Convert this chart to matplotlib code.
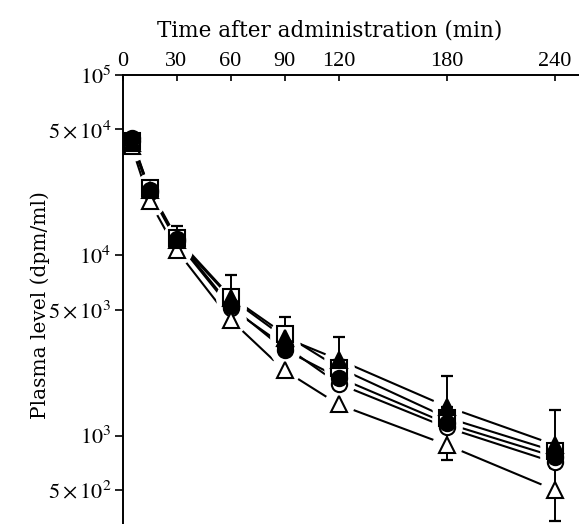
import matplotlib
matplotlib.use("Agg")
import matplotlib.pyplot as plt
import numpy as np

# ---- data ----
times = [5, 15, 30, 60, 90, 120, 180, 240]
filled_circle = [4.5e4, 2.3e4, 1.23e4, 5.25e3, 3.0e3, 2.1e3, 1.17e3, 7.65e2]
open_circle = [4.3e4, 2.25e4, 1.2e4, 5.1e3, 3.15e3, 1.94e3, 1.11e3, 7.1e2]
filled_tri = [4.2e4, 2.3e4, 1.22e4, 5.8e3, 3.5e3, 2.64e3, 1.45e3, 8.9e2]
open_square = [4.3e4, 2.35e4, 1.25e4, 5.9e3, 3.65e3, 2.38e3, 1.26e3, 8.2e2]
open_tri = [4.05e4, 2.0e4, 1.07e4, 4.4e3, 2.3e3, 1.49e3, 8.9e2, 5.0e2]
# error bars (SD)
upper_sd_tri = [0, 0, 2400, 2000, 1070, 900, 700, 500]
sd_open_tri = [0, 0, 0, 0, 0, 0, 155, 164]

x_ticks = [0, 30, 60, 90, 120, 180, 240]
y_ticks = [1e5, 5e4, 1e4, 5e3, 1e3, 5e2]
y_ticklabels = [r'$10^{5}$', r'$5\times10^{4}$', r'$10^{4}$', r'$5\times10^{3}$',
                r'$10^{3}$', r'$5\times10^{2}$']

plt.rcParams['font.family'] = ['Liberation Serif', 'DejaVu Serif']
plt.rcParams['mathtext.fontset'] = 'stix'

W, H = 579, 524
fig = plt.figure(figsize=(W / 100, H / 100), dpi=100)
left = 122.5 / W
top = 1 - 75 / H
ax = fig.add_axes([left, 0.0, 1 - left, top])

ax.set_yscale('log')
ax.set_xlim(0, (W - 122.5) / 1.8)
ax.set_ylim(10 ** 2.51, 1e5)

series = [
    (open_square, 's', 'white'),
    (open_circle, 'o', 'white'),
    (filled_circle, 'o', 'black'),
    (open_tri, '^', 'white'),
    (filled_tri, '^', 'black'),
]

# lines
for vals, m, fc in series:
    ax.plot(times, vals, color='black', lw=1.5, zorder=1, solid_capstyle='butt')
# white masks around markers to produce gaps
for vals, m, fc in series:
    ax.plot(times, vals, linestyle='none', marker='o', ms=21, mfc='white',
            mec='white', zorder=2)

# error bars
ax.errorbar(times[2:], filled_tri[2:], yerr=[[0] * 6, upper_sd_tri[2:]],
            fmt='none', ecolor='black', elinewidth=1.4, capsize=4, capthick=1.6, zorder=2.5)
ax.errorbar(times[6:], open_tri[6:], yerr=sd_open_tri[6:],
            fmt='none', ecolor='black', elinewidth=1.4, capsize=4, capthick=1.6, zorder=2.5)

# markers
for vals, m, fc in series:
    ax.plot(times, vals, linestyle='none', marker=m, ms=11, mfc=fc,
            mec='black', mew=1.5, zorder=3)

# axes style
ax.spines['right'].set_visible(False)
ax.spines['bottom'].set_visible(False)
for s in ('top', 'left'):
    ax.spines[s].set_linewidth(1.4)
ax.xaxis.set_ticks_position('top')
ax.xaxis.set_label_position('top')
ax.set_xticks(x_ticks)
ax.set_xticklabels([str(v) for v in x_ticks])
ax.tick_params(axis='x', direction='in', length=4, width=1.2, labelsize=16, pad=3)
ax.set_yticks(y_ticks)
ax.set_yticklabels(y_ticklabels)
ax.yaxis.set_minor_locator(matplotlib.ticker.NullLocator())
ax.tick_params(axis='y', direction='out', length=6, width=1.2, labelsize=16, pad=2)

ax.set_xlabel('Time after administration (min)', fontsize=15.5,
              family=['DejaVu Serif'])
ax.xaxis.set_label_coords((330 - 122.5) / (W - 122.5), 1 + (75 - 31) / (H - 75) )
ax.xaxis.label.set_va('center')
ax.set_ylabel('Plasma level (dpm/ml)', fontsize=14.5, family=['DejaVu Serif'])
ax.yaxis.set_label_coords(-left + 30 / W, (524 - 305) / (H - 75))

fig.savefig('out.png', dpi=100)
